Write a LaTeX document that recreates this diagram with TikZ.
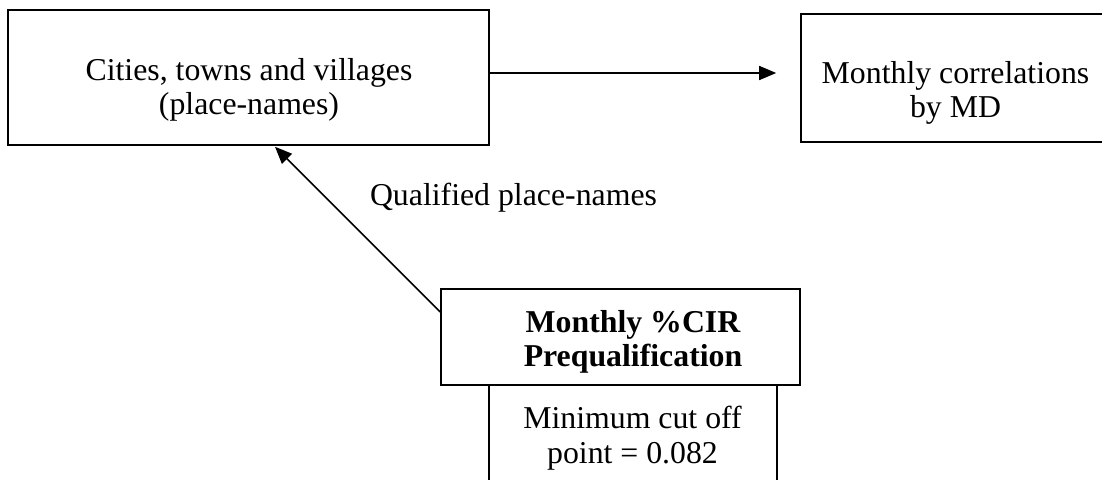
\documentclass[tikz,border=0pt]{standalone}
\usepackage{fontspec}
\setmainfont{Liberation Serif}
\usetikzlibrary{arrows.meta}
\begin{document}
\begin{tikzpicture}[x=1pt,y=-1pt,
  box/.style={draw=black, line width=1.6pt, inner sep=0pt, rectangle},
  txt/.style={anchor=base, inner sep=0pt, font=\fontsize{31.8}{34}\selectfont},
  btxt/.style={txt, font=\fontsize{31.8}{34}\selectfont\bfseries},
  arr/.style={draw=black, line width=1.6pt, -{Triangle[length=17pt,width=14pt]}}]
\useasboundingbox (0,0) rectangle (1102,479);
\clip (0,0) rectangle (1102,479);

% boxes
\node[box, minimum width=481pt, minimum height=135pt] (cities) at (248.5,77.5) {};
\node[box, minimum width=314pt, minimum height=128pt] (corr) at (958,78) {};
\node[box, minimum width=359pt, minimum height=96pt] (prequal) at (620.5,337) {};
\node[box, minimum width=288pt, minimum height=110pt] (cutoff) at (633,440) {};

% box texts
\node[txt] (citiesA) at (249,80) {Cities, towns and villages};
\node[txt] (citiesB) at (249,114) {(place-names)};
\node[txt] (corrA) at (955.5,83) {Monthly correlations};
\node[txt] (corrB) at (955.5,117) {by MD};
\node[btxt] (prequalA) at (633,332) {Monthly \%CIR};
\node[btxt] (prequalB) at (633,366) {Prequalification};
\node[txt] (cutoffA) at (632.5,428) {Minimum cut off};
\node[txt] (cutoffB) at (632.5,463) {point = 0.082};

% connectors
\draw[arr, shorten >=24pt] ([yshift=4.5pt]cities.east) -- ([yshift=5pt]corr.west);
\draw[arr] ([yshift=25pt]prequal.west) -- ([xshift=26.5pt,yshift=-1pt]cities.south);
\node[txt] (qual) at (513.5,205) {Qualified place-names};
\end{tikzpicture}
\end{document}
